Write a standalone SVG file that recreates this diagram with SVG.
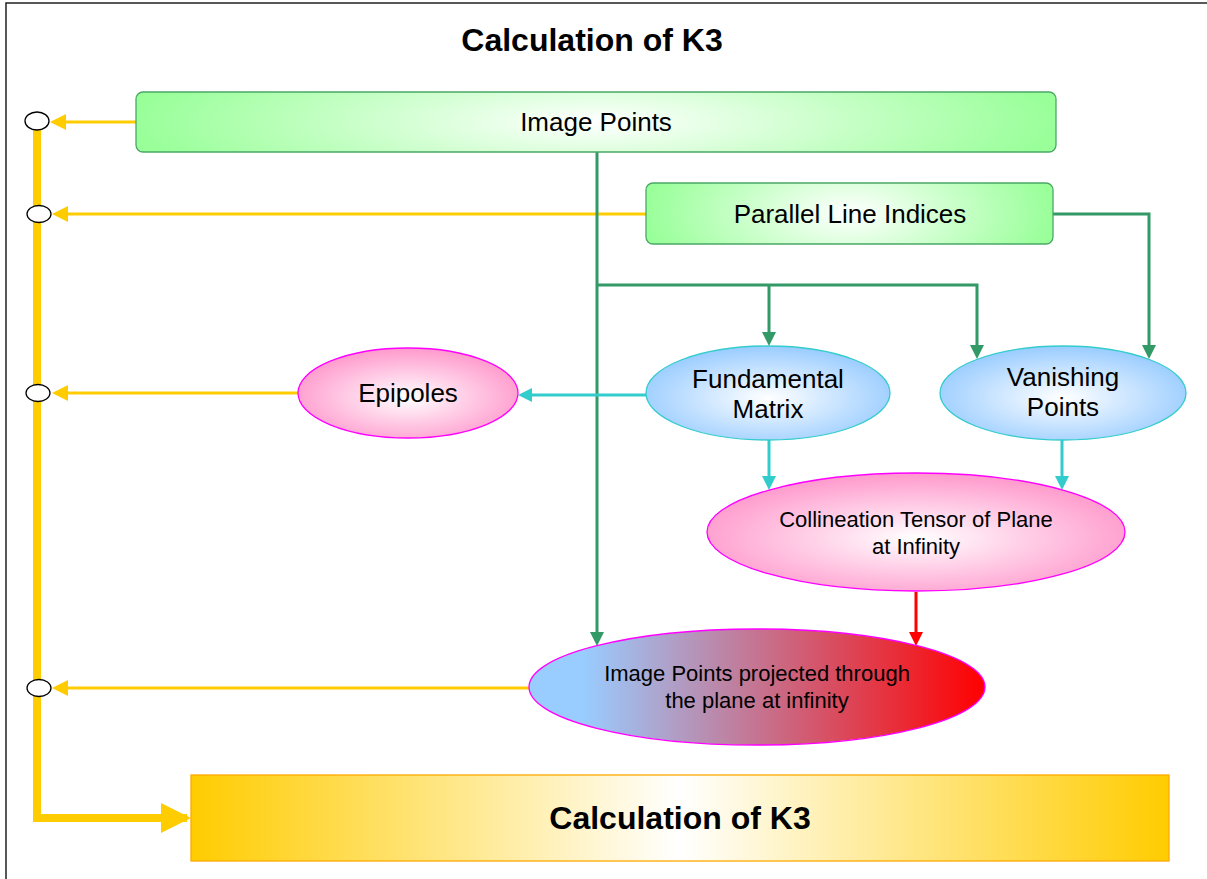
<svg xmlns="http://www.w3.org/2000/svg" width="1207" height="879" viewBox="0 0 1207 879">
<defs>
<style>
text{font-family:"Liberation Sans",Arial,sans-serif;fill:#000;text-anchor:middle}
.t26{font-size:26px}
.t22{font-size:22px}
.tb{font-size:32px;font-weight:bold}
.g{fill:none;stroke:#339966;stroke-width:3}
.c{fill:none;stroke:#33cccc;stroke-width:3}
.r{fill:none;stroke:#ff0000;stroke-width:3}
.y{fill:none;stroke:#ffcc00;stroke-width:3}
.yt{fill:none;stroke:#ffcc00;stroke-width:8}
.dot{fill:#fff;stroke:#000;stroke-width:1.3}
</style>
<radialGradient id="gGreen" cx="0.5" cy="0.5" r="0.5" gradientTransform="translate(0.5 0.5) scale(1 3) translate(-0.5 -0.5)">
<stop offset="0" stop-color="#ffffff"/><stop offset="1" stop-color="#99ff99"/></radialGradient>
<radialGradient id="gBlue" cx="0.5" cy="0.55" r="0.55"><stop offset="0" stop-color="#ffffff"/><stop offset="1" stop-color="#99ccff"/></radialGradient>
<radialGradient id="gPink" cx="0.5" cy="0.55" r="0.55"><stop offset="0" stop-color="#ffffff"/><stop offset="1" stop-color="#ff99cc"/></radialGradient>
<linearGradient id="gProj" x1="0" y1="0" x2="1" y2="0"><stop offset="0.12" stop-color="#99ccff"/><stop offset="1" stop-color="#ff0000"/></linearGradient>
<linearGradient id="gGold" x1="0" y1="0" x2="1" y2="0"><stop offset="0" stop-color="#ffcc00"/><stop offset="0.5" stop-color="#ffffff"/><stop offset="1" stop-color="#ffcc00"/></linearGradient>
<marker id="aG" viewBox="0 0 14 14" refX="10" refY="7" markerWidth="14" markerHeight="14" markerUnits="userSpaceOnUse" orient="auto"><path d="M0 0L14 7L0 14z" fill="#339966"/></marker>
<marker id="aC" viewBox="0 0 14 14" refX="10" refY="7" markerWidth="14" markerHeight="14" markerUnits="userSpaceOnUse" orient="auto"><path d="M0 0L14 7L0 14z" fill="#33cccc"/></marker>
<marker id="aR" viewBox="0 0 14 14" refX="10" refY="7" markerWidth="14" markerHeight="14" markerUnits="userSpaceOnUse" orient="auto"><path d="M0 0L14 7L0 14z" fill="#ff0000"/></marker>
<marker id="aY" viewBox="0 0 16 16" refX="12" refY="8" markerWidth="16" markerHeight="16" markerUnits="userSpaceOnUse" orient="auto"><path d="M0 0L16 8L0 16z" fill="#ffcc00"/></marker>
<marker id="aYB" viewBox="0 0 30 30" refX="26" refY="15" markerWidth="30" markerHeight="30" markerUnits="userSpaceOnUse" orient="auto"><path d="M0 0L30 15L0 30z" fill="#ffcc00"/></marker>
</defs>
<rect x="6" y="3" width="1260" height="920" fill="#fff" stroke="#222" stroke-width="1.5"/>
<text id="title" class="tb" x="592" y="51">Calculation of K3</text>

<g id="connectors">
<path class="yt" d="M37 128V818H187" marker-end="url(#aYB)"/>
<path class="y" d="M136 122H54" marker-end="url(#aY)"/>
<path class="y" d="M646 214H56" marker-end="url(#aY)"/>
<path class="y" d="M298 393H56" marker-end="url(#aY)"/>
<path class="y" d="M530 688H56" marker-end="url(#aY)"/>
<path class="g" d="M597 152V642" marker-end="url(#aG)"/>
<path class="g" d="M597 285H977V355" marker-end="url(#aG)"/>
<path class="g" d="M769 285V342" marker-end="url(#aG)"/>
<path class="g" d="M1053 214H1149V355" marker-end="url(#aG)"/>
<path class="c" d="M646 395H522" marker-end="url(#aC)"/>
<path class="c" d="M769 440V486" marker-end="url(#aC)"/>
<path class="c" d="M1062 440V486" marker-end="url(#aC)"/>
<path class="r" d="M916 592V642" marker-end="url(#aR)"/>
<ellipse class="dot" cx="37" cy="121" rx="12" ry="9"/>
<ellipse class="dot" cx="39" cy="214" rx="12" ry="8.5"/>
<ellipse class="dot" cx="38" cy="393" rx="12" ry="8.5"/>
<ellipse class="dot" cx="39" cy="688" rx="12" ry="8.5"/>
</g>

<g id="image-points">
<rect x="136" y="92" width="920" height="60" rx="7" fill="url(#gGreen)" stroke="#4aa866" stroke-width="1.3"/>
<text class="t26" x="596" y="131">Image Points</text>
</g>
<g id="parallel-line-indices">
<rect x="646" y="183" width="407" height="61" rx="7" fill="url(#gGreen)" stroke="#4aa866" stroke-width="1.3"/>
<text class="t26" x="850" y="223">Parallel Line Indices</text>
</g>
<g id="epipoles">
<ellipse cx="408" cy="393" rx="110" ry="45" fill="url(#gPink)" stroke="#ff00ff" stroke-width="1.3"/>
<text class="t26" x="408" y="402">Epipoles</text>
</g>
<g id="fundamental-matrix">
<ellipse cx="768" cy="393" rx="122" ry="47" fill="url(#gBlue)" stroke="#33cccc" stroke-width="1.3"/>
<text class="t26" x="768" y="388">Fundamental</text>
<text class="t26" x="768" y="418">Matrix</text>
</g>
<g id="vanishing-points">
<ellipse cx="1063" cy="393" rx="123" ry="47" fill="url(#gBlue)" stroke="#33cccc" stroke-width="1.3"/>
<text class="t26" x="1063" y="386">Vanishing</text>
<text class="t26" x="1063" y="416">Points</text>
</g>
<g id="collineation-tensor">
<ellipse cx="916" cy="532" rx="209" ry="59" fill="url(#gPink)" stroke="#ff00ff" stroke-width="1.3"/>
<text class="t22" x="916" y="527">Collineation Tensor of Plane</text>
<text class="t22" x="916" y="554">at Infinity</text>
</g>
<g id="projected-points">
<ellipse cx="757" cy="687" rx="228" ry="58" fill="url(#gProj)" stroke="#ff00ff" stroke-width="1.3"/>
<text class="t22" x="757" y="681">Image Points projected through</text>
<text class="t22" x="757" y="708">the plane at infinity</text>
</g>
<g id="calculation-k3">
<rect x="191" y="775" width="978" height="86" fill="url(#gGold)" stroke="#ffaa00" stroke-width="1.3"/>
<text class="tb" x="680" y="829">Calculation of K3</text>
</g>
</svg>
